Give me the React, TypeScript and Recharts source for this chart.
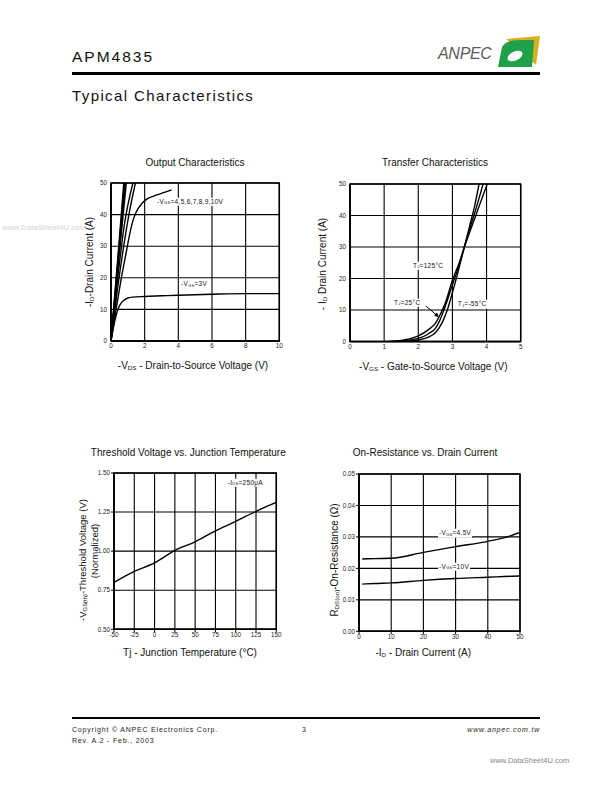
import React from 'react';
import { LineChart, Line, XAxis, YAxis, CartesianGrid, ReferenceArea } from 'recharts';

const FONT = "'Liberation Sans', Arial, Helvetica, sans-serif";

type Pt = [number, number];

// Output characteristics: -Vds (V), -Id (A)
const outVgs10: Pt[] = [[0, 0], [0.4, 26], [0.76, 50]];
const outVgs9: Pt[] = [[0, 0], [0.4, 25], [0.8, 50]];
const outVgs8: Pt[] = [[0, 0], [0.4, 23.8], [0.85, 50]];
const outVgs7: Pt[] = [[0, 0], [0.4, 22.5], [0.91, 50]];
const outVgs6: Pt[] = [[0, 0], [0.4, 20], [0.8, 37], [1.3, 50]];
const outVgs5: Pt[] = [[0, 0], [0.4, 17], [0.8, 31.5], [1.1, 41], [1.45, 50]];
const outVgs4: Pt[] = [[0, 0], [0.3, 10], [0.6, 19.5], [0.9, 28], [1.1, 33.5], [1.3, 38], [1.5, 40.8], [1.8, 43.3], [2.1, 44.8], [2.5, 45.8], [3, 46.7], [3.6, 47.8]];
const outVgs3: Pt[] = [[0, 0], [0.15, 4.5], [0.3, 8], [0.45, 10.5], [0.6, 12], [0.8, 13], [1, 13.6], [1.3, 13.9], [2, 14.1], [3, 14.3], [4, 14.5], [6, 14.8], [8, 15], [10, 15]];
const outXTicks = [0, 2, 4, 6, 8, 10];
const outYTicks = [0, 10, 20, 30, 40, 50];

// Transfer characteristics: -Vgs (V), -Id (A)
const trTjM55: Pt[] = [[1.2, 0], [1.8, 0.3], [2.0, 0.5], [2.3, 1.4], [2.5, 2.8], [2.7, 6], [2.85, 10], [3.0, 15.5], [3.15, 21.5], [3.35, 30], [3.5, 36.5], [3.65, 43], [3.78, 50]];
const trTj25: Pt[] = [[1.1, 0], [1.6, 0.3], [2.0, 1.0], [2.3, 2.5], [2.5, 4.2], [2.62, 6.5], [2.75, 10], [3.0, 18], [3.2, 24.5], [3.35, 30], [3.5, 35.5], [3.7, 42.5], [3.9, 50]];
const trTj125: Pt[] = [[1.0, 0], [1.5, 0.4], [2.0, 1.8], [2.3, 3.8], [2.5, 5.8], [2.66, 9], [2.8, 12.5], [3.0, 19.5], [3.2, 25], [3.35, 30], [3.5, 34.5], [3.75, 42], [4.02, 50]];
const trXTicks = [0, 1, 2, 3, 4, 5];
const trYTicks = [0, 10, 20, 30, 40, 50];

// Threshold voltage vs junction temperature
const thTemp = [-50, -25, 0, 25, 50, 75, 100, 125, 150];
const thVth = [0.8, 0.87, 0.925, 1.005, 1.06, 1.13, 1.19, 1.255, 1.312];
const thYTicks = [0.5, 0.75, 1.0, 1.25, 1.5];

// On-resistance vs drain current
const rdsId = [1, 5, 10, 20, 30, 40, 45, 50];
const rdsVgs45 = [0.0230, 0.0231, 0.0232, 0.0251, 0.0269, 0.0286, 0.0297, 0.0314];
const rdsVgs10 = [0.0150, 0.0152, 0.0154, 0.0162, 0.0168, 0.0172, 0.0174, 0.0176];
const rdsXTicks = [0, 10, 20, 30, 40, 50];
const rdsYTicks = [0, 0.01, 0.02, 0.03, 0.04, 0.05];

const toRows = (pts: Pt[]) => pts.map(([x, y]) => ({ x, y }));
const zip = (xs: number[], ys: number[]) => xs.map((x, i) => ({ x, y: ys[i] }));

interface PlotProps {
  left: number;
  top: number;
  plotW: number;
  plotH: number;
  xDomain: [number, number];
  xTicks: number[];
  yDomain: [number, number];
  yTicks: number[];
  yFmt?: (v: number) => string;
  series: { x: number; y: number }[][];
  tickLines: boolean;
}

const Plot: React.FC<PlotProps> = ({ left, top, plotW, plotH, xDomain, xTicks, yDomain, yTicks, yFmt, series, tickLines }) => {
  const yW = 30;
  const mt = 6;
  const mr = 10;
  const xH = 16;
  const tick = { fontSize: 6.3, fill: '#222', fontFamily: FONT };
  return (
    <div style={{ position: 'absolute', left: left - yW, top: top - mt }}>
      <LineChart width={plotW + yW + mr} height={plotH + mt + xH} margin={{ top: mt, right: mr, left: 0, bottom: 0 }}>
        <CartesianGrid stroke="#000" strokeWidth={1.1} />
        <XAxis
          type="number"
          dataKey="x"
          domain={xDomain}
          ticks={xTicks}
          interval={0}
          allowDataOverflow
          height={xH}
          tick={tick}
          tickLine={tickLines ? { stroke: '#000' } : false}
          tickSize={3}
          tickMargin={0}
          axisLine={{ stroke: '#000', strokeWidth: 1.5 }}
        />
        <YAxis
          type="number"
          domain={yDomain}
          ticks={yTicks}
          interval={0}
          allowDataOverflow
          width={yW}
          tick={tick}
          tickFormatter={yFmt}
          tickLine={tickLines ? { stroke: '#000' } : false}
          tickSize={3}
          tickMargin={1}
          axisLine={{ stroke: '#000', strokeWidth: 1.5 }}
        />
        <ReferenceArea x1={xDomain[0]} x2={xDomain[1]} y1={yDomain[0]} y2={yDomain[1]} fill="none" stroke="#000" strokeWidth={1.5} />
        {series.map((d, i) => (
          <Line
            key={i}
            data={d}
            dataKey="y"
            type="monotone"
            stroke="#000"
            strokeWidth={1.4}
            dot={false}
            isAnimationActive={false}
          />
        ))}
      </LineChart>
    </div>
  );
};

const Sub: React.FC<{ children: React.ReactNode }> = ({ children }) => (
  <span style={{ fontSize: '0.62em', position: 'relative', top: '0.18em' }}>{children}</span>
);

const Text: React.FC<{ cx: number; cy: number; size: number; rotate?: boolean; children: React.ReactNode }> = ({ cx, cy, size, rotate, children }) => (
  <div
    style={{
      position: 'absolute',
      left: cx,
      top: cy,
      transform: `translate(-50%, -50%)${rotate ? ' rotate(-90deg)' : ''}`,
      fontSize: size,
      lineHeight: 1,
      whiteSpace: 'nowrap',
      fontFamily: FONT,
      color: '#111',
    }}
  >
    {children}
  </div>
);

const Tag: React.FC<{ x: number; cy: number; children: React.ReactNode }> = ({ x, cy, children }) => (
  <div
    style={{
      position: 'absolute',
      left: x,
      top: cy,
      transform: 'translateY(-50%)',
      fontSize: 6.5,
      lineHeight: 1,
      padding: '1px 1px',
      background: '#fff',
      whiteSpace: 'nowrap',
      fontFamily: FONT,
      letterSpacing: 0.3,
      color: '#111',
    }}
  >
    {children}
  </div>
);

const App: React.FC = () => {
  return (
    <div style={{ position: 'absolute', left: 0, top: 0, width: 612, height: 792, background: '#fff', fontFamily: FONT, overflow: 'hidden' }}>
      {/* header */}
      <div style={{ position: 'absolute', left: 72, top: 49, fontSize: 15.5, letterSpacing: 2, lineHeight: 1, color: '#111' }}>APM4835</div>
      <svg style={{ position: 'absolute', left: 436, top: 35 }} width={106} height={34}>
        <text x={2} y={24} fontFamily={FONT} fontStyle="italic" fontSize={16} fill="#5a5a5a" letterSpacing={-0.3}>ANPEC</text>
        <path d="M70 4 L104 1 L100 30 Z" fill="#d7b021" />
        <path d="M66 12 Q70 5 84 5 L98 5 L96 32 L62 32 Z" fill="#1fa04a" />
        <ellipse cx={79} cy={21} rx={8} ry={4.5} transform="rotate(-25 79 21)" fill="#fff" />
      </svg>
      <div style={{ position: 'absolute', left: 72, top: 71.5, width: 468, height: 3, background: '#000' }} />
      <div style={{ position: 'absolute', left: 72, top: 88, fontSize: 15, letterSpacing: 1.4, lineHeight: 1, color: '#111' }}>Typical Characteristics</div>

      {/* watermark left */}
      <div style={{ position: 'absolute', left: 2, top: 224, fontSize: 8, color: '#d4d4d4', lineHeight: 1 }}>www.DataSheet4U.com</div>

      {/* Output characteristics */}
      <Plot
        left={110.7}
        top={182.7}
        plotW={168.3}
        plotH={158}
        xDomain={[0, 10]}
        xTicks={outXTicks}
        yDomain={[0, 50]}
        yTicks={outYTicks}
        series={[outVgs10, outVgs9, outVgs8, outVgs7, outVgs6, outVgs5, outVgs4, outVgs3].map(toRows)}
        tickLines={false}
      />
      <Text cx={195} cy={163.3} size={10}>Output Characteristics</Text>
      <Text cx={193} cy={366} size={10}>-V<Sub>DS</Sub> - Drain-to-Source Voltage (V)</Text>
      <Text cx={90} cy={262} size={10}  rotate>-I<Sub>D</Sub>-Drain Current (A)</Text>
      <Tag x={156} cy={201.7}>-V<Sub>GS</Sub>=4,5,6,7,8,9,10V</Tag>
      <Tag x={180} cy={284}>-V<Sub>GS</Sub>=3V</Tag>

      {/* Transfer characteristics */}
      <Plot
        left={350}
        top={183.7}
        plotW={170.7}
        plotH={157.6}
        xDomain={[0, 5]}
        xTicks={trXTicks}
        yDomain={[0, 50]}
        yTicks={trYTicks}
        series={[trTjM55, trTj25, trTj125].map(toRows)}
        tickLines={false}
      />
      <Text cx={435} cy={163.3} size={10}>Transfer Characteristics</Text>
      <Text cx={433.3} cy={366.7} size={10}>-V<Sub>GS</Sub> - Gate-to-Source Voltage (V)</Text>
      <Text cx={322.7} cy={264} size={10} rotate>- I<Sub>D</Sub> Drain Current (A)</Text>
      <Tag x={412} cy={265.7}>T<Sub>J</Sub>=125°C</Tag>
      <Tag x={393} cy={302.7}>T<Sub>J</Sub>=25°C</Tag>
      <Tag x={456.7} cy={304}>T<Sub>J</Sub>=-55°C</Tag>
      <svg style={{ position: 'absolute', left: 420, top: 300 }} width={25} height={22}>
        <line x1={6} y1={6} x2={17} y2={15.5} stroke="#000" strokeWidth={1} />
        <path d="M19 17.5 L14 15.5 L17 12.5 Z" fill="#000" />
      </svg>

      {/* Threshold voltage */}
      <Plot
        left={113.7}
        top={472.7}
        plotW={162.3}
        plotH={156.3}
        xDomain={[-50, 150]}
        xTicks={thTemp}
        yDomain={[0.5, 1.5]}
        yTicks={thYTicks}
        yFmt={(v) => v.toFixed(2)}
        series={[zip(thTemp, thVth)]}
        tickLines
      />
      <Text cx={188.3} cy={453.3} size={10}>Threshold Voltage vs. Junction Temperature</Text>
      <Text cx={190} cy={653.3} size={10}>Tj - Junction Temperature (°C)</Text>
      <Text cx={83} cy={560} size={9.5} rotate>-V<Sub>GS(th)</Sub>-Threshold Voltage (V)</Text>
      <Text cx={95} cy={551} size={9.5} rotate>(Normalized)</Text>
      <Tag x={226.7} cy={482.7}>-I<Sub>DS</Sub>=250μA</Tag>

      {/* On-resistance */}
      <Plot
        left={359}
        top={473.7}
        plotW={161}
        plotH={157.3}
        xDomain={[0, 50]}
        xTicks={rdsXTicks}
        yDomain={[0, 0.05]}
        yTicks={rdsYTicks}
        yFmt={(v) => v.toFixed(2)}
        series={[zip(rdsId, rdsVgs45), zip(rdsId, rdsVgs10)]}
        tickLines
      />
      <Text cx={425} cy={453.3} size={10}>On-Resistance vs. Drain Current</Text>
      <Text cx={423.3} cy={653.3} size={10}>-I<Sub>D</Sub> - Drain Current (A)</Text>
      <Text cx={335} cy={560} size={10} rotate>R<Sub>DS(on)</Sub>-On-Resistance (Ω)</Text>
      <Tag x={438} cy={533.3}>-V<Sub>GS</Sub>=4.5V</Tag>
      <Tag x={438} cy={566.7}>-V<Sub>GS</Sub>=10V</Tag>

      {/* footer */}
      <div style={{ position: 'absolute', left: 72, top: 716.5, width: 468, height: 2.7, background: '#000' }} />
      <div style={{ position: 'absolute', left: 72, top: 725.5, fontSize: 7, letterSpacing: 0.8, lineHeight: 1, color: '#222' }}>Copyright © ANPEC Electronics Corp.</div>
      <div style={{ position: 'absolute', left: 302, top: 725.5, fontSize: 7, lineHeight: 1, color: '#222' }}>3</div>
      <div style={{ position: 'absolute', right: 72, top: 725.5, fontSize: 7, letterSpacing: 0.8, fontStyle: 'italic', lineHeight: 1, color: '#222' }}>www.anpec.com.tw</div>
      <div style={{ position: 'absolute', left: 72, top: 736.5, fontSize: 7, letterSpacing: 0.8, lineHeight: 1, color: '#222' }}>Rev. A.2 - Feb., 2003</div>
      <div style={{ position: 'absolute', left: 490, top: 757, fontSize: 7.5, lineHeight: 1, color: '#888' }}>www.DataSheet4U.com</div>
    </div>
  );
};

export default App;
